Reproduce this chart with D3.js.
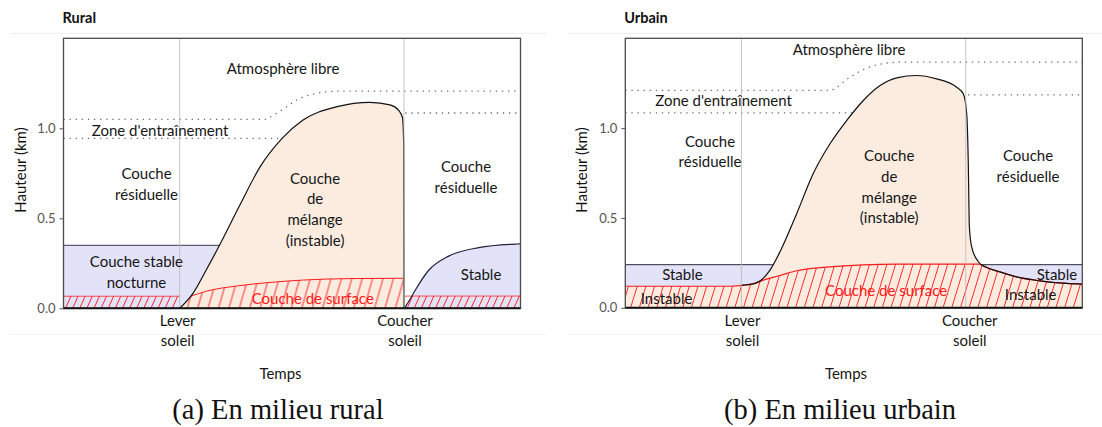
<!DOCTYPE html>
<html><head><meta charset="utf-8">
<script src="https://cdn.jsdelivr.net/npm/d3@7"></script>
<style>body{margin:0;background:#fff}svg{display:block}</style>
</head><body>
<svg id="chart" width="1102" height="427"></svg>
<script>
// ---------- shared axes ----------
const timeDomain = [0, 24];
const heightDomain = [0, 1.5];
const heightTicks = [0, 0.5, 1.0];
const sunriseTime = 6.1;
const sunsetTime = 17.88;
const sunriseLabel = ["Lever", "soleil"];
const sunsetLabel = ["Coucher", "soleil"];

// ---------- Rural ----------
const ruralNightStableTop = [[0, 0.35], [17.88, 0.35]];
const ruralEveningStable = [[17.9, 0], [18.2, 0.05], [18.47, 0.1], [19.17, 0.21], [20.23, 0.29], [21.8, 0.337], [23.74, 0.357], [24, 0.358]];
const ruralMixing = [[6.1, 0], [6.8, 0.083], [7.43, 0.2], [8.22, 0.356], [9.27, 0.575], [10.33, 0.787], [11.48, 0.944], [12.58, 1.046], [14.37, 1.12], [16.1, 1.144], [17.15, 1.13], [17.6, 1.1], [17.8, 1.06], [17.87, 0.9], [17.88, 0]];
const ruralSurfaceNight = [[0, 0.067], [6.1, 0.067]];
const ruralSurfaceDay = [[6.1, 0.067], [6.7, 0.068], [7.5, 0.095], [9.1, 0.124], [11, 0.145], [12.6, 0.157], [15, 0.165], [17.87, 0.167]];
const ruralSurfaceEvening = [[17.95, 0.068], [24, 0.068]];
const ruralEntrainTop = [[0, 1.05], [10.6, 1.05], [10.84, 1.061], [11.2, 1.083], [11.72, 1.12], [12.42, 1.167], [13.1, 1.19], [13.83, 1.203], [14.6, 1.207], [24, 1.207]];
const ruralEntrainBottomDay = [[0, 0.944], [11.5, 0.944]];
const ruralEntrainBottomNight = [[17.95, 1.085], [24, 1.085]];

// ---------- Urbain ----------
const urbanStableTop = [[0, 0.24], [24, 0.24]];
const urbanMixing = [[6.1, 0.125], [6.2, 0.126], [6.9, 0.139], [7.6, 0.21], [8.12, 0.311], [9.0, 0.524], [9.87, 0.747], [10.75, 0.913], [11.63, 1.043], [12.5, 1.154], [13.38, 1.237], [14.25, 1.28], [15.3, 1.293], [16.35, 1.274], [17.4, 1.228], [17.75, 1.191], [17.93, 1.08], [18.01, 0.82], [18.07, 0.45], [18.19, 0.339], [18.55, 0.255], [18.9, 0.228], [19.67, 0.2], [20.55, 0.172], [21.77, 0.15], [23.18, 0.136], [24, 0.132]];
const urbanSurface = [[0, 0.12], [5.5, 0.12], [6.55, 0.13], [7.25, 0.154], [8.12, 0.18], [9.0, 0.206], [10.75, 0.228], [12.5, 0.239], [14.25, 0.243], [17.73, 0.243], [18.55, 0.243], [18.9, 0.228], [19.67, 0.2], [20.55, 0.172], [21.77, 0.15], [23.18, 0.136], [24, 0.132]];
const urbanEntrainTop = [[0, 1.21], [10.8, 1.21], [11.0, 1.22], [11.75, 1.28], [12.7, 1.335], [13.6, 1.36], [14.5, 1.367], [24, 1.367]];
const urbanEntrainBottomDay = [[0, 1.085], [12.0, 1.085]];
const urbanEntrainBottomNight = [[18.0, 1.185], [24, 1.185]];

// ---------- labels (data coordinates: hour, km) ----------
const ruralLabels = [
  {t: 11.53, h: 1.302, lines: ["Atmosphère libre"]},
  {t: 5.07, h: 0.957, lines: ["Zone d'entraînement"]},
  {t: 4.36, h: 0.716, lines: ["Couche", "résiduelle"]},
  {t: 3.83, h: 0.229, lines: ["Couche stable", "nocturne"]},
  {t: 13.21, h: 0.693, lines: ["Couche", "de", "mélange", "(instable)"]},
  {t: 13.09, h: 0.024, lines: ["Couche de surface"], red: true},
  {t: 21.14, h: 0.756, lines: ["Couche", "résiduelle"]},
  {t: 21.93, h: 0.157, lines: ["Stable"]}
];
const urbanLabels = [
  {t: 11.75, h: 1.407, lines: ["Atmosphère libre"]},
  {t: 5.16, h: 1.123, lines: ["Zone d'entraînement"]},
  {t: 4.45, h: 0.895, lines: ["Couche", "résiduelle"]},
  {t: 3.0, h: 0.155, lines: ["Stable"]},
  {t: 2.17, h: 0.021, lines: ["Instable"]},
  {t: 13.86, h: 0.817, lines: ["Couche", "de", "mélange", "(instable)"]},
  {t: 13.7, h: 0.066, lines: ["Couche de surface"], red: true},
  {t: 21.15, h: 0.817, lines: ["Couche", "résiduelle"]},
  {t: 22.67, h: 0.155, lines: ["Stable"]},
  {t: 21.29, h: 0.043, lines: ["Instable"]}
];

const LAV = "#e2e2f8", PEACH = "#fcece0", RED = "#ff1a1a";
const FONT = "Lato, 'Open Sans', sans-serif";
const svg = d3.select("#chart");
const defs = svg.append("defs");

function hatch(id, spacing, angle) {
  const p = defs.append("pattern").attr("id", id)
    .attr("patternUnits", "userSpaceOnUse")
    .attr("width", spacing).attr("height", 40)
    .attr("patternTransform", `rotate(${angle})`);
  p.append("line").attr("x1", spacing / 2).attr("x2", spacing / 2)
    .attr("y1", -2).attr("y2", 42).attr("stroke", RED).attr("stroke-width", 0.9);
}
hatch("hNight", 6.5, 24);
hatch("hDay", 10, 16);
hatch("hUrban", 8.3, 17);

function panel(cfg) {
  const g = svg.append("g");
  const x = d3.scaleLinear(timeDomain, [cfg.left, cfg.right]);
  const y = d3.scaleLinear(heightDomain, [cfg.bottom, cfg.top]);
  const line = d3.line().x(d => x(d[0])).y(d => y(d[1])).curve(d3.curveMonotoneX);
  const area = d3.area().x(d => x(d[0])).y0(y(0)).y1(d => y(d[1])).curve(d3.curveMonotoneX);

  // separators
  g.append("line").attr("x1", cfg.sepL).attr("x2", cfg.sepR).attr("y1", 33.5).attr("y2", 33.5)
    .attr("stroke", "#efefef").attr("stroke-width", 1);
  g.append("line").attr("x1", cfg.sepL).attr("x2", cfg.sepR).attr("y1", 334.5).attr("y2", 334.5)
    .attr("stroke", "#f2f2f2").attr("stroke-width", 1);

  g.append("text").attr("x", cfg.left - 1).attr("y", 23).text(cfg.title)
    .attr("font-family", FONT).attr("font-weight", "bold").attr("font-size", 14.5).attr("fill", "#111");

  const clipId = "clip" + cfg.id;
  defs.append("clipPath").attr("id", clipId).append("rect")
    .attr("x", cfg.left).attr("y", cfg.top).attr("width", cfg.right - cfg.left).attr("height", cfg.bottom - cfg.top);
  const p = g.append("g").attr("clip-path", `url(#${clipId})`);

  cfg.draw(p, x, y, line, area);

  // sunrise / sunset vertical lines
  [sunriseTime, sunsetTime].forEach(t => {
    p.append("line").attr("x1", x(t)).attr("x2", x(t)).attr("y1", cfg.top).attr("y2", cfg.bottom)
      .attr("stroke", "#b8b8b8").attr("stroke-opacity", 0.8).attr("stroke-width", 1);
  });

  // labels
  cfg.labels.forEach(l => {
    const tx = g.append("text").attr("text-anchor", "middle")
      .attr("font-family", FONT).attr("font-size", 15)
      .attr("fill", l.red ? RED : "#161616");
    l.lines.forEach((s, i) => {
      tx.append("tspan").attr("x", x(l.t)).attr("y", y(l.h) + i * (l.lines.length > 2 ? 20.8 : 20.5)).text(s);
    });
  });

  // frame
  g.append("rect").attr("x", cfg.left).attr("y", cfg.top).attr("width", cfg.right - cfg.left)
    .attr("height", cfg.bottom - cfg.top).attr("fill", "none").attr("stroke", "#4a4a4a").attr("stroke-width", 1.3);
  g.append("line").attr("x1", cfg.left).attr("x2", cfg.right).attr("y1", y(0)).attr("y2", y(0))
    .attr("stroke", "#111").attr("stroke-width", 2);

  // y axis
  const ax = g.append("g").attr("transform", `translate(${cfg.left},0)`)
    .call(d3.axisLeft(y).tickValues(heightTicks).tickFormat(d3.format(".1f")).tickSize(4).tickPadding(4));
  ax.select(".domain").remove();
  ax.selectAll(".tick line").attr("stroke", "#555");
  ax.selectAll(".tick text").attr("font-family", FONT).attr("font-size", 13).attr("fill", "#555");

  g.append("text").attr("transform", `translate(${cfg.left - 38},170) rotate(-90)`)
    .attr("text-anchor", "middle").attr("font-family", FONT).attr("font-size", 15).attr("fill", "#111")
    .text("Hauteur (km)");

  // x labels
  [[sunriseTime, sunriseLabel, cfg.dxRise], [sunsetTime, sunsetLabel, cfg.dxSet]].forEach(([t, lab, dx]) => {
    const tx = g.append("text").attr("text-anchor", "middle").attr("font-family", FONT)
      .attr("font-size", 15).attr("fill", "#161616");
    lab.forEach((s, i) => tx.append("tspan").attr("x", x(t) + dx).attr("y", 325.5 + i * 20.5).text(s));
  });
  g.append("text").attr("x", cfg.tempsX).attr("y", 379).attr("text-anchor", "middle")
    .attr("font-family", FONT).attr("font-size", 15).attr("fill", "#161616").text("Temps");
  g.append("text").attr("x", cfg.captionX).attr("y", 419).attr("text-anchor", "middle")
    .attr("font-family", "'Liberation Serif', 'DejaVu Serif', serif").attr("font-size", 28.5).attr("fill", "#111")
    .text(cfg.caption);
}

const dotted = sel => sel.attr("fill", "none").attr("stroke", "#6a6a6a").attr("stroke-width", 1.3)
  .attr("stroke-dasharray", "1.3 4.8");

panel({
  id: "R", title: "Rural", left: 63.5, right: 520.5, top: 38.3, bottom: 308.3,
  sepL: 10, sepR: 546, dxRise: -2, dxSet: 1, tempsX: 280.5, captionX: 278,
  caption: "(a) En milieu rural", labels: ruralLabels,
  draw(p, x, y, line, area) {
    const lin = d3.line().x(d => x(d[0])).y(d => y(d[1]));
    dotted(p.append("path").attr("d", line(ruralEntrainTop)));
    dotted(p.append("path").attr("d", lin(ruralEntrainBottomDay)));
    dotted(p.append("path").attr("d", lin(ruralEntrainBottomNight)));
    p.append("path").attr("d", d3.area().x(d => x(d[0])).y0(y(0)).y1(d => y(d[1]))(ruralNightStableTop)).attr("fill", LAV);
    p.append("path").attr("d", lin(ruralNightStableTop)).attr("fill", "none").attr("stroke", "#3a3a4a").attr("stroke-width", 1);
    p.append("path").attr("d", area(ruralEveningStable)).attr("fill", LAV);
    p.append("path").attr("d", area(ruralMixing)).attr("fill", PEACH);
    p.append("path").attr("d", area(ruralSurfaceNight)).attr("fill", "url(#hNight)");
    p.append("path").attr("d", area(ruralSurfaceEvening)).attr("fill", "url(#hNight)");
    defs.append("clipPath").attr("id", "mixClipR").append("path").attr("d", area(ruralMixing));
    p.append("path").attr("d", area(ruralSurfaceDay)).attr("fill", "url(#hDay)").attr("clip-path", "url(#mixClipR)");
    p.append("path").attr("d", lin(ruralSurfaceNight)).attr("fill", "none").attr("stroke", RED).attr("stroke-opacity", 0.75).attr("stroke-width", 1);
    p.append("path").attr("d", lin(ruralSurfaceEvening)).attr("fill", "none").attr("stroke", RED).attr("stroke-opacity", 0.75).attr("stroke-width", 1);
    p.append("path").attr("d", line(ruralSurfaceDay.slice(1))).attr("fill", "none").attr("stroke", RED).attr("stroke-width", 1);
    p.append("path").attr("d", line(ruralMixing)).attr("fill", "none").attr("stroke", "#111").attr("stroke-width", 1.2);
    p.append("path").attr("d", line(ruralEveningStable)).attr("fill", "none").attr("stroke", "#22223a").attr("stroke-width", 1.2);
  }
});

panel({
  id: "U", title: "Urbain", left: 625.3, right: 1082.3, top: 38.3, bottom: 307.8,
  sepL: 568, sepR: 1102, dxRise: 1, dxSet: 4, tempsX: 846, captionX: 840,
  caption: "(b) En milieu urbain", labels: urbanLabels,
  draw(p, x, y, line, area) {
    const lin = d3.line().x(d => x(d[0])).y(d => y(d[1]));
    dotted(p.append("path").attr("d", line(urbanEntrainTop)));
    dotted(p.append("path").attr("d", lin(urbanEntrainBottomDay)));
    dotted(p.append("path").attr("d", lin(urbanEntrainBottomNight)));
    p.append("path").attr("d", d3.area().x(d => x(d[0])).y0(y(0)).y1(d => y(d[1]))(urbanStableTop)).attr("fill", LAV);
    p.append("path").attr("d", lin(urbanStableTop)).attr("fill", "none").attr("stroke", "#2a2a3a").attr("stroke-width", 1);
    const peachTop = urbanSurface.filter(d => d[0] < sunriseTime).concat(urbanMixing);
    p.append("path").attr("d", area(peachTop)).attr("fill", PEACH);
    p.append("path").attr("d", area(urbanSurface)).attr("fill", "url(#hUrban)");
    p.append("path").attr("d", line(urbanSurface)).attr("fill", "none").attr("stroke", RED).attr("stroke-width", 1.2);
    p.append("path").attr("d", line(urbanMixing)).attr("fill", "none").attr("stroke", "#111").attr("stroke-width", 1.2);
  }
});
</script>
</body></html>
